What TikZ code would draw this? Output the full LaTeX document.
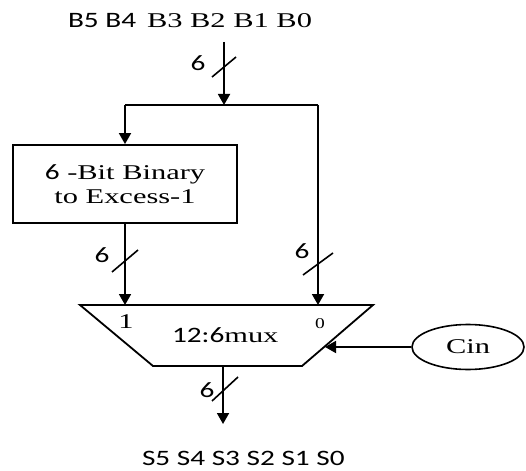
\documentclass[tikz,border=0pt]{standalone}
\usepackage{fontspec}
\setmainfont{Liberation Serif}
\newfontfamily\sfC{Carlito}
\usetikzlibrary{arrows.meta,shapes.geometric}
\newcommand\rmT[1]{\scalebox{1.45}[1]{\fontsize{21}{25}\selectfont #1}}
\newcommand\sfT[1]{\scalebox{1.33}[1]{\fontsize{22}{26}\sfC\selectfont #1}}
\tikzset{
  wire/.style={line width=1.8pt},
  arr/.style={wire,-{Triangle[length=11pt,width=12pt]}},
  busmark/.style={line width=1.6pt},
  lbl/.style={inner sep=0pt,outer sep=0pt},
  blockbox/.style={draw,line width=1.8pt,minimum width=224pt,minimum height=78pt,align=center,inner sep=0pt,font=\fontsize{21}{25}\selectfont},
  cinnode/.style={draw,ellipse,line width=1.6pt,minimum width=112pt,minimum height=45pt,inner sep=0pt}
}
\begin{document}
\begin{tikzpicture}[x=1pt,y=-1pt]
\useasboundingbox (0,0) rectangle (526,470);
% top labels
\node[lbl,anchor=base west] (topA) at (68,28) {\sfT{B5 B4}};
\node[lbl,anchor=base west] (topB) at (147,28) {\rmT{B3 B2 B1 B0}};
% coordinates
\coordinate (inTop) at (224,42);
\coordinate (split) at (224,105);
\coordinate (bl) at (125,105);
\coordinate (br) at (318,105);
% block
\node[blockbox] (box) at (125,184) {\sfT{6}\rmT{ -Bit Binary}\\[-1pt]\rmT{to Excess-1}};
% mux
\coordinate (mTL) at (80,305);
\coordinate (mTR) at (373,305);
\coordinate (mBR) at (302,366);
\coordinate (mBL) at (153,366);
\draw[wire,line join=miter] (mTL) -- (mTR) -- (mBR) -- (mBL) -- cycle;
\coordinate (in1) at (125,305);
\coordinate (in0) at (318,305);
\coordinate (sel) at (325,347);
\coordinate (out) at (223,366);
\coordinate (outEnd) at (223,424);
\node[lbl,anchor=base] (one) at (126,328) {\rmT{1}};
\node[lbl,anchor=base] (zero) at (320,328) {\scalebox{1.3}[1]{\fontsize{15}{18}\selectfont 0}};
\node[lbl,anchor=base west] (muxlbl) at (172,342) {\sfT{12:6}\rmT{mux}};
% Cin
\node[cinnode] (cin) at (468,347) {\rmT{Cin}};
% wires
\draw[arr] (inTop) -- (split);
\draw[wire] (bl) -- (br);
\draw[arr] (bl) -- (box.north);
\draw[arr] (br) -- (in0);
\draw[arr] (box.south) -- (in1);
\draw[arr] (cin.west) -- (sel);
\draw[arr] (out) -- (outEnd);
% bus marks
\draw[busmark] (224,67) ++(-12,10) -- ++(24,-20);
\draw[busmark] (125,261) ++(-13,11) -- ++(26,-22);
\draw[busmark] (318,264) ++(-15,11) -- ++(30,-22);
\draw[busmark] (225,389) ++(-13,12) -- ++(26,-24);
\node[lbl] (w1) at (198,63) {\sfT{6}};
\node[lbl] (w2) at (102,255) {\sfT{6}};
\node[lbl] (w3) at (302,251) {\sfT{6}};
\node[lbl] (w4) at (207,390) {\sfT{6}};
% output label
\node[lbl,anchor=base west] (outlbl) at (142,465) {\sfT{S5 S4 S3 S2 S1 S0}};
\end{tikzpicture}
\end{document}
